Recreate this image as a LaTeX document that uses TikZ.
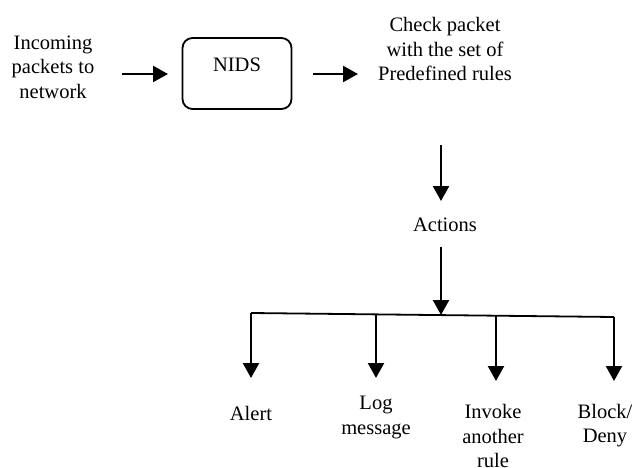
\documentclass[tikz,border=0pt]{standalone}
\usepackage{fontspec}
\setmainfont{Liberation Serif}
\usetikzlibrary{arrows.meta}
\begin{document}
\begin{tikzpicture}[x=1pt,y=-1pt,
  txt/.style={inner sep=0pt, align=center, font=\fontsize{20.5}{24.5}\selectfont},
  arr/.style={line width=2.3pt, -{Triangle[length=15pt,width=16pt]}},
  boxsty/.style={draw, line width=1.8pt, rounded corners=10pt, minimum width=109pt, minimum height=71pt, inner sep=0pt},
  ln/.style={line width=1.8pt}]
\useasboundingbox (0,0) rectangle (637,468);
% nodes
\node[txt] (in) at (53,67) {Incoming\\packets to\\network};
\node[boxsty] (nids) at (237,73.5) {};
\node[txt] (nidst) at (237,65) {NIDS};
\node[txt] (check) at (445,49) {Check packet\\with the set of\\Predefined rules};
\node[txt] (act) at (445,225) {Actions};
\node[txt] (alert) at (251,413) {Alert};
\node[txt] (log) at (376,417.5) {Log\\message};
\node[txt] (inv) at (493,436) {Invoke\\another\\rule};
\node[txt] (blk) at (605,425.5) {Block/\\Deny};
% arrow end points
\coordinate (a1s) at (122,74);
\coordinate (a1e) at (168,74);
\coordinate (a2s) at (313,74);
\coordinate (a2e) at (358,74);
\coordinate (d1s) at (441,145);
\coordinate (d1e) at (441,201);
\coordinate (d2s) at (441,247);
\coordinate (d2e) at (441,315);
\coordinate (tl) at (251,313);
\coordinate (tr) at (614,317);
\coordinate (b1) at (251,313);
\coordinate (b2) at (376,314);
\coordinate (b3) at (496,316);
\coordinate (b4) at (614,317);
\coordinate (e1) at (251,378);
\coordinate (e2) at (376,378);
\coordinate (e3) at (496,381);
\coordinate (e4) at (614,381);
% connectors
\draw[arr] (a1s) -- (a1e);
\draw[arr] (a2s) -- (a2e);
\draw[arr] (d1s) -- (d1e);
\draw[arr] (d2s) -- (d2e);
\draw[ln] (tl) -- (tr);
\draw[arr] (b1) -- (e1);
\draw[arr] (b2) -- (e2);
\draw[arr] (b3) -- (e3);
\draw[arr] (b4) -- (e4);
\end{tikzpicture}
\end{document}
